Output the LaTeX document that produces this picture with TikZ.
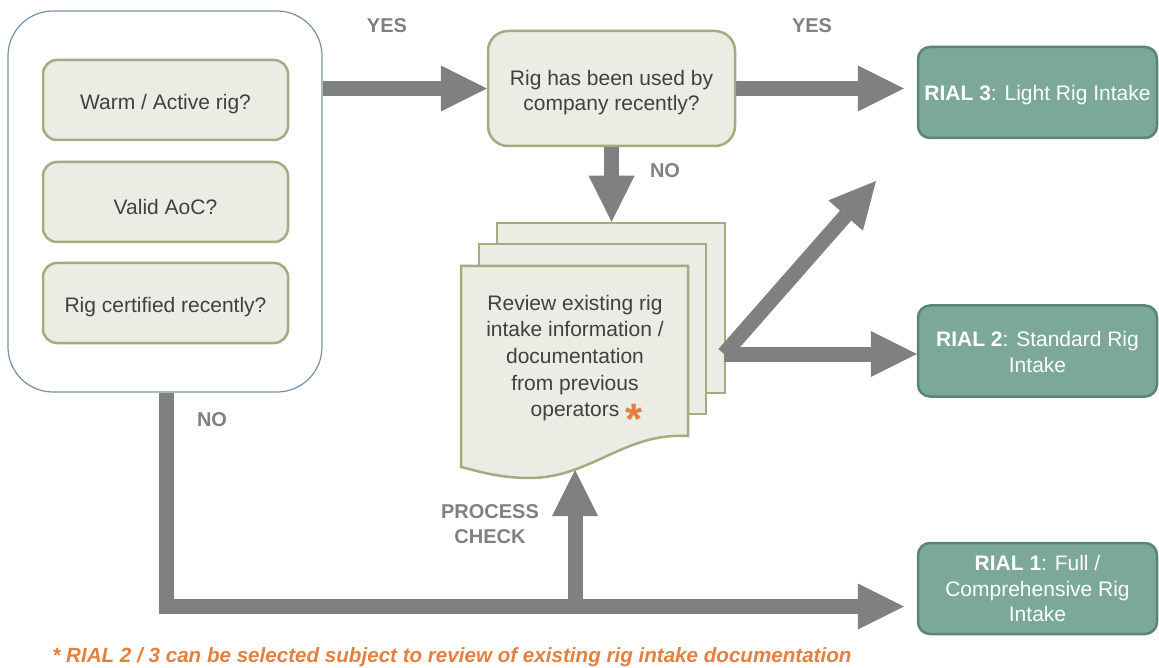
\documentclass[tikz,border=0pt]{standalone}
\usepackage{fontspec}
\setmainfont{Liberation Sans}
\usetikzlibrary{arrows.meta}
\definecolor{ink}{HTML}{404040}
\definecolor{paper}{HTML}{ECECE4}
\definecolor{olive}{HTML}{A3AC80}
\definecolor{outerblue}{HTML}{7490AC}
\definecolor{tealfill}{HTML}{7BA89B}
\definecolor{tealedge}{HTML}{5C8377}
\definecolor{flowgray}{HTML}{808080}
\definecolor{accent}{HTML}{E4803F}
\begin{document}
\begin{tikzpicture}[x=1pt,y=-1pt,
  body/.style={font=\fontsize{21}{25.5}\selectfont},
  % box text is set as a centred label, nudged down to sit on the optical centre
  boxtext/.style={body, align=center, inner sep=0pt, text=ink},
  qbox/.style={draw=olive, line width=2.5pt, fill=paper, rounded corners=14pt,
    minimum width=245pt, minimum height=80pt, inner sep=0pt},
  decbox/.style={qbox, rounded corners=20pt, minimum width=247pt, minimum height=115pt},
  rial/.style={draw=tealedge, fill=tealfill, line width=2.5pt, rounded corners=12pt,
    minimum width=239pt, minimum height=91pt, inner sep=0pt},
  page/.style={draw=olive, line width=2.5pt, fill=paper, inner sep=0pt},
  flow/.style={draw=flowgray, line width=15pt,
    -{Triangle[length=46pt,width=46pt,line width=0pt 0 0]}},
  lbl/.style={text=flowgray, font=\bfseries\fontsize{20}{25}\selectfont, align=center}]
\useasboundingbox (0,0) rectangle (1159,668);

% left group of entry questions
\node[draw=outerblue, line width=1.2pt, rounded corners=45pt,
      minimum width=314pt, minimum height=381pt] (outer) at (165,201.5) {};
\node[qbox, label={[boxtext, yshift=-4.5pt]center:Warm / Active rig?}] (q1) at (165.5,100) {};
\node[qbox, label={[boxtext, yshift=-4.5pt]center:Valid AoC?}] (q2) at (165.5,202) {};
\node[qbox, label={[boxtext, yshift=-4.5pt]center:Rig certified recently?}] (q3) at (165.5,303) {};

% decision
\node[decbox, label={[boxtext, yshift=-4pt]center:{Rig has been used by\\company recently?}}]
  (dec) at (611.5,88.5) {};

% outcome levels
\node[rial, label={[boxtext, text=white, yshift=-3pt]center:{\textbf{RIAL 3}: Light Rig Intake}}]
  (rial3) at (1037.5,92.5) {};
\node[rial, label={[boxtext, text=white, yshift=-1pt]center:{\textbf{RIAL 2}: Standard Rig\\Intake}}]
  (rial2) at (1037.5,351) {};
\node[rial, label={[boxtext, text=white]center:{\textbf{RIAL 1}: Full /\\Comprehensive Rig\\Intake}}]
  (rial1) at (1037.5,588.5) {};

% stacked documents
\node[page, minimum width=228pt, minimum height=170pt] (pageC) at (611,308) {};
\node[page, minimum width=227pt, minimum height=170pt] (pageB) at (592.5,329) {};
\draw[page] (461,266) -- (688,266) -- (688,436)
  .. controls (625,432) and (590,478) .. (530,478)
  .. controls (498,478) and (478,471) .. (461,467) -- cycle;
\node[text=ink, align=center, font=\fontsize{21}{26.7}\selectfont] (doc) at (575,358)
  {Review existing rig\\intake information /\\documentation\\from previous\\operators\hspace{24pt}};
\node[text=accent, font=\bfseries\fontsize{44}{44}\selectfont, inner sep=0pt] (star) at (634,419) {*};
\coordinate (docbot) at (575,470);
\coordinate (fork) at (724,354);
\coordinate (up) at (876,181);
\coordinate (corner) at (166.5,606.5);

% connectors
\draw[flow] (outer.east |- dec.west) -- (dec.west);
\draw[flow, shorten >=13pt] (dec.east) -- (dec.east -| rial3.west);
\draw[flow] (dec.south) -- (dec.south |- pageC.north);
\draw[flow] (fork) -- (up);
\draw[flow] (fork) -- (fork -| rial2.west);
\draw[flow, line join=miter, shorten >=13pt] (outer.south -| corner) -- (corner) -- (corner -| rial1.west);
\draw[flow] (corner -| docbot) -- (docbot);

% labels
\node[lbl] (yes1) at (387,26) {YES};
\node[lbl] (yes2) at (812,26) {YES};
\node[lbl] (no1) at (665,171) {NO};
\node[lbl] (no2) at (212,420) {NO};
\node[lbl] (pc) at (490,524) {PROCESS\\CHECK};
\node[text=accent, font=\bfseries\itshape\fontsize{20.6}{24}\selectfont] (note) at (452,657)
  {* RIAL 2 / 3 can be selected subject to review of existing rig intake documentation};
\end{tikzpicture}
\end{document}
